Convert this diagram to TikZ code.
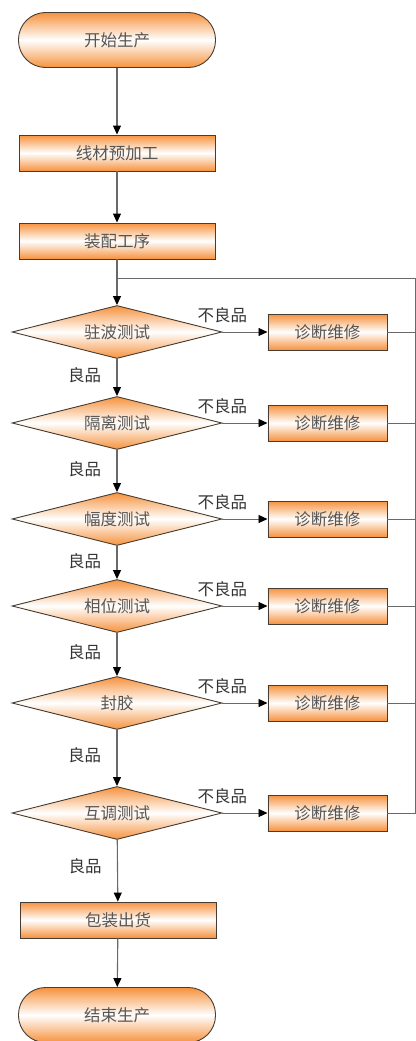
\documentclass[tikz,border=0pt]{standalone}
\usepackage{fontspec}
\setmainfont{Noto Sans CJK SC}
\usetikzlibrary{shapes.geometric,arrows.meta}
\definecolor{orgfill}{RGB}{246,146,62}
\definecolor{edgegray}{RGB}{70,60,50}
\definecolor{linegray}{RGB}{105,105,105}
\definecolor{txtgray}{RGB}{85,85,85}

\begin{document}
\begin{tikzpicture}[x=1pt,y=-1pt,
  every node/.style={font=\fontsize{16.5}{16.5}\selectfont, text=txtgray},
  grad/.style={draw=edgegray, line width=0.9pt, top color=orgfill, bottom color=orgfill, middle color=white},
  term/.style={grad, rounded corners=27pt, minimum width=197pt, minimum height=55pt},
  proc/.style={grad, minimum width=196pt, minimum height=36pt},
  fix/.style={grad, minimum width=119pt, minimum height=36pt},
  test/.style={grad, diamond, aspect=3.96, inner sep=0pt, minimum width=210pt, minimum height=53pt},
  arr/.style={draw=linegray, line width=1.1pt, -{Triangle[color=black,width=8pt,length=9pt]}},
  ret/.style={draw=linegray, line width=0.9pt},
  lab/.style={text=black!80}]
  \useasboundingbox (0,0) rectangle (415,1041);

  % main flow
  \node[term] (start) at (117,40) {开始生产};
  \node[proc] (pre) at (117,153) {线材预加工};
  \node[proc] (asm) at (117,241) {装配工序};
  \foreach \n/\t/\y in {1/驻波测试/332, 2/隔离测试/423, 3/幅度测试/519, 4/相位测试/606, 5/封胶/703, 6/互调测试/813}
    \node[test] (d\n) at (117,\y) {\t};
  \node[proc] (pack) at (118,920) {包装出货};
  \node[term] (stop) at (117,1015) {结束生产};

  % repair boxes
  \foreach \n in {1,...,6}
    \node[fix] (r\n) at ([xshift=105pt]d\n.east) {诊断维修};

  \draw[arr] (start) -- (pre);
  \draw[arr] (pre) -- (asm);
  \draw[arr] (asm) -- (d1);
  \foreach \a/\b in {1/2,2/3,3/4,4/5,5/6}
    \draw[arr] (d\a) -- node[lab, left=12pt, pos=0.45] {良品} (d\b);
  \draw[arr] (d6) -- node[lab, left=12pt, pos=0.42] {良品} (pack);
  \draw[arr] (pack) -- (stop);

  \foreach \n in {1,...,6}
    \draw[arr, line width=0.9pt] (d\n.east) -- node[lab, pos=0, above=5pt] {不良品} (r\n);

  % return line
  \coordinate (jn) at (117,278);
  \coordinate (rt) at (415,278);
  \draw[ret] (r6.east) -| (rt) -- (jn);
  \foreach \n in {1,...,5}
    \draw[ret] (r\n.east) -- (r\n.east -| rt);
\end{tikzpicture}
\end{document}
